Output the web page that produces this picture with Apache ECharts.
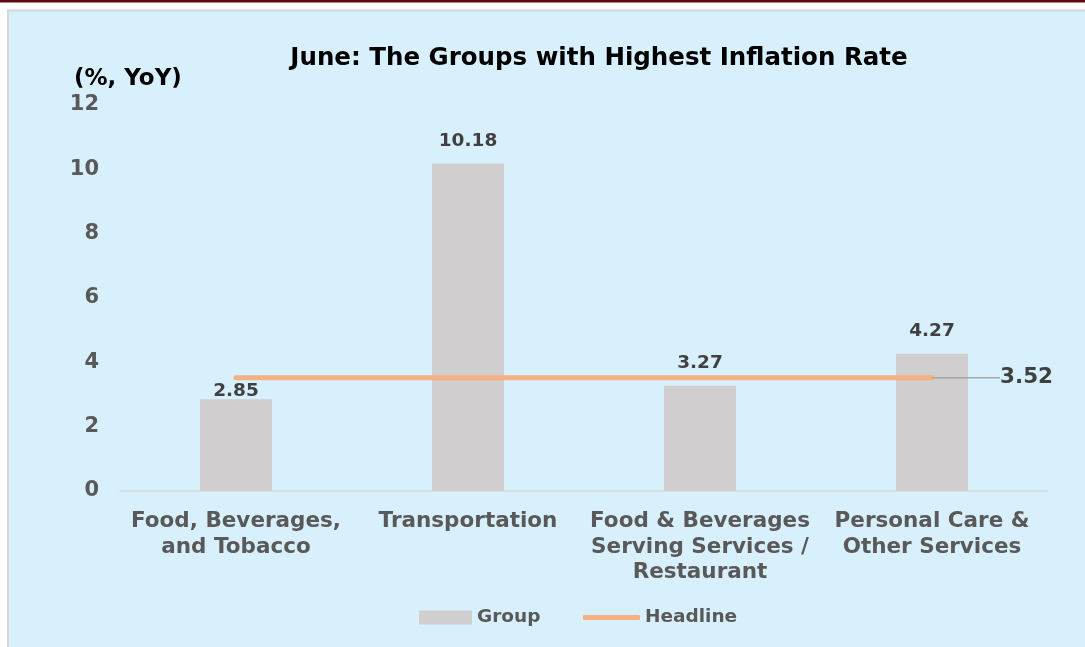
<!DOCTYPE html>
<html><head><meta charset="utf-8">
<script src="https://cdn.jsdelivr.net/npm/echarts@6/dist/echarts.min.js"></script>
<style>html,body{margin:0;padding:0;background:#fff}#c{width:1085px;height:647px}</style>
</head><body><div id="c"></div>
<script>
const categories = ["Food, Beverages,\nand Tobacco", "Transportation", "Food & Beverages\nServing Services /\nRestaurant", "Personal Care &\nOther Services"];
const groupValues = [2.85, 10.18, 3.27, 4.27];
const headlineValues = [3.52, 3.52, 3.52, 3.52];
const yTicks = [0, 2, 4, 6, 8, 10, 12];

const FONT = "DejaVu Sans";
const chart = echarts.init(document.getElementById('c'));
chart.setOption({
  backgroundColor: '#ffffff',
  animation: false,
  textStyle: { fontFamily: FONT },
  graphic: [
    { type: 'rect', shape: { x: 0, y: 0, width: 1085, height: 2.5 }, style: { fill: '#5C0A12' }, z: -10 },
    { type: 'rect', shape: { x: 8, y: 10.5, width: 1090, height: 650 }, style: { fill: '#D8F0FB', stroke: '#D6D6D6', lineWidth: 2 }, z: -10 }
  ],
  title: [
    { text: 'June: The Groups with Highest Inflation Rate', left: 594, top: 41, textAlign: 'center',
      textStyle: { fontFamily: FONT, fontWeight: 'bold', fontSize: 24.5, color: '#000' } },
    { text: '(%, YoY)', left: 69, top: 63,
      textStyle: { fontFamily: FONT, fontWeight: 'bold', fontSize: 23, color: '#000' } }
  ],
  grid: { left: 120, right: 37, top: 105, bottom: 156, containLabel: false },
  legend: [
    { left: 419, top: 608, padding: 0, itemWidth: 53, itemHeight: 14, selectedMode: false,
      textStyle: { fontFamily: FONT, fontWeight: 'bold', fontSize: 18.5, color: '#595959' },
      data: [{ name: 'Group', icon: 'rect' }] },
    { left: 583, top: 608, padding: 0, itemWidth: 57, itemHeight: 5, selectedMode: false,
      textStyle: { fontFamily: FONT, fontWeight: 'bold', fontSize: 18.5, color: '#595959' },
      data: [{ name: 'Headline', icon: 'roundRect', itemStyle: { color: '#F4B183' } }] }
  ],
  xAxis: {
    type: 'category', data: categories,
    axisLine: { lineStyle: { color: '#D9D9D9', width: 1.5 } },
    axisTick: { show: false },
    axisLabel: { fontFamily: FONT, fontWeight: 'bold', fontSize: 21.5, color: '#595959', lineHeight: 25.5, margin: 18, interval: 0 }
  },
  yAxis: {
    type: 'value', min: 0, max: 12, interval: 2,
    axisLine: { show: false }, axisTick: { show: false }, splitLine: { show: false },
    axisLabel: { fontFamily: FONT, fontWeight: 'bold', fontSize: 21, color: '#595959', margin: 21,
      formatter: v => yTicks.includes(v) ? String(v) : '' }
  },
  series: [
    { name: 'Group', type: 'bar', data: groupValues.map((v, i) => i === 0 ? { value: v, label: { distance: -1 } } : v),
      barWidth: 72,
      itemStyle: { color: '#D0CECE' },
      label: { show: true, position: 'top', distance: 13, fontFamily: FONT, fontWeight: 'bold', fontSize: 18.5, color: '#404040', formatter: p => p.value.toFixed(2) } },
    { name: 'Headline', type: 'line',
      data: headlineValues.map((v, i) => i === headlineValues.length - 1 ? {
        value: v,
        label: { show: true, position: 'right', distance: 0, fontFamily: FONT, fontWeight: 'bold', fontSize: 21.5, color: '#404040', formatter: p => p.value.toFixed(2) }
      } : v),
      symbol: 'circle', symbolSize: 0.01, showSymbol: true, z: 5,
      lineStyle: { color: '#F4B183', width: 5, cap: 'round' },
      itemStyle: { color: '#F4B183' },
      label: { show: false },
      labelLayout: p => p.dataIndex === 3 ? { dx: 68, dy: 0 } : {},
      labelLine: { show: true, lineStyle: { color: '#A6A6A6', width: 1.5 } }
    }
  ]
});
</script></body></html>
